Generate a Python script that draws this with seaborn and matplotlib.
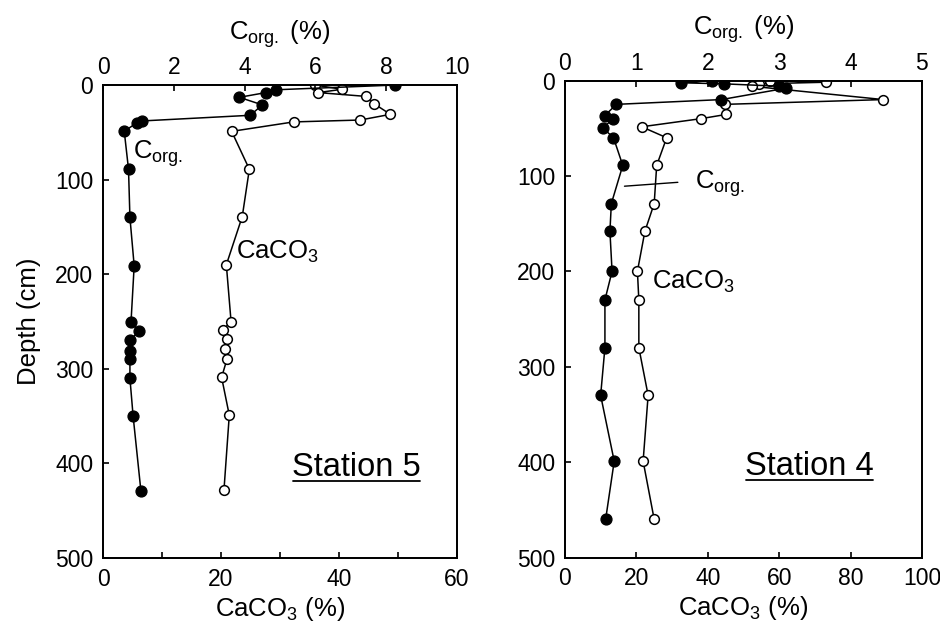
import matplotlib
matplotlib.use("Agg")
import matplotlib.pyplot as plt
import seaborn as sns
import pandas as pd
from matplotlib.lines import Line2D

# ---------------- data ----------------
# Station 5
s5_corg_depth = [0, 5, 8, 13, 21, 32, 38, 40, 49, 89, 140, 191, 251, 260, 270, 281, 290, 310, 350, 429]
s5_corg = [8.26, 4.9, 4.6, 3.85, 4.5, 4.16, 1.09, 0.95, 0.6, 0.72, 0.76, 0.88, 0.79, 1.02, 0.76, 0.76, 0.76, 0.76, 0.85, 1.07]
s5_caco3_depth = [0, 4.5, 8, 12, 20, 31, 37, 39, 49, 89, 139, 190, 250, 259, 269, 279, 290, 309, 349, 428]
s5_caco3 = [35.9, 40.5, 36.5, 44.5, 46.0, 48.7, 43.6, 32.3, 21.8, 24.8, 23.6, 20.9, 21.7, 20.3, 21.0, 20.6, 21.0, 20.1, 21.4, 20.5]

# Station 4
s4_corg_depth = [0, 2.4, 3.5, 6, 8, 20, 25, 36.7, 40, 49.6, 60, 89, 129, 158, 200, 230, 280, 330, 399, 460]
s4_corg = [2.06, 1.63, 2.23, 3.0, 3.1, 2.19, 0.72, 0.56, 0.68, 0.53, 0.68, 0.81, 0.65, 0.63, 0.66, 0.56, 0.56, 0.50, 0.69, 0.57]
s4_caco3_depth = [0, 1.8, 3.5, 6, 20, 25, 35.6, 40, 48.5, 60, 89, 129, 158, 200, 230, 280, 330, 399, 460]
s4_caco3 = [57.4, 73.1, 54.4, 52.3, 89.2, 44.8, 45.1, 38.1, 21.5, 28.5, 25.7, 25.0, 22.4, 20.3, 20.7, 20.7, 23.3, 21.9, 25.0]

depth_ticks = [0, 100, 200, 300, 400, 500]
s5_caco3_ticks = [0, 20, 40, 60]
s5_caco3_minor = [10, 30, 50]
s5_corg_ticks = [0, 2, 4, 6, 8, 10]
s4_caco3_ticks = [0, 20, 40, 60, 80, 100]
s4_corg_ticks = [0, 1, 2, 3, 4, 5]

# ---------------- style ----------------
sns.set_style("ticks")
plt.rcParams["font.family"] = ["Liberation Sans", "DejaVu Sans"]
plt.rcParams["mathtext.fontset"] = "custom"
plt.rcParams["mathtext.rm"] = "Liberation Sans"
plt.rcParams["mathtext.it"] = "Liberation Sans"
plt.rcParams["mathtext.default"] = "regular"
plt.rcParams["axes.linewidth"] = 1.3
for k in ("text.color", "axes.labelcolor", "xtick.color", "ytick.color", "axes.edgecolor"):
    plt.rcParams[k] = "black"

TICK_FS = 16.5
LABEL_FS = 18.5
STATION_FS = 23.5

fig = plt.figure(figsize=(9.4, 6.27), dpi=100)
ax5 = fig.add_axes([0.1096, 0.110, 0.3766, 0.7544])
ax4 = fig.add_axes([0.601, 0.1108, 0.3798, 0.7608])


def draw_panel(ax, caco3, caco3_depth, corg, corg_depth, caco3_ticks, corg_ticks,
               caco3_max, corg_max, caco3_minor=None):
    ax.set_xlim(0, caco3_max)
    ax.set_ylim(500, 0)
    top = ax.twiny()
    top.set_xlim(0, corg_max)
    df_ca = pd.DataFrame({"CaCO3": caco3, "Depth": caco3_depth})
    df_c = pd.DataFrame({"Corg": corg, "Depth": corg_depth})
    sns.lineplot(data=df_ca, x="CaCO3", y="Depth", sort=False, estimator=None, ax=ax,
                 color="black", linewidth=1.1, marker="o", markersize=7,
                 markerfacecolor="white", markeredgecolor="black", markeredgewidth=1.1,
                 zorder=3)
    sns.lineplot(data=df_c, x="Corg", y="Depth", sort=False, estimator=None, ax=top,
                 color="black", linewidth=1.1, marker="o", markersize=7.8,
                 markerfacecolor="black", markeredgecolor="black", markeredgewidth=1.0,
                 zorder=3)
    ax.set_ylim(500, 0)
    ax.set_xticks(caco3_ticks)
    if caco3_minor:
        ax.set_xticks(caco3_minor, minor=True)
    ax.set_yticks(depth_ticks)
    ax.tick_params(axis="both", which="both", direction="in", length=4, width=1.2,
                   labelsize=TICK_FS)
    ax.tick_params(axis="x", pad=7)
    ax.tick_params(axis="y", pad=7)
    top.set_xticks(corg_ticks)
    top.tick_params(axis="x", which="both", direction="in", length=4, width=1.2,
                    labelsize=TICK_FS, pad=4)
    ax.set_xlabel(r"CaCO$_3$ (%)", fontsize=LABEL_FS, labelpad=3)
    top.set_xlabel(r"C$_{org.}$ (%)", fontsize=LABEL_FS, labelpad=12)
    ax.set_ylabel("")
    top.set_ylabel("")
    for a in (ax, top):
        for s in a.spines.values():
            s.set_visible(True)
            s.set_linewidth(1.3)
            s.set_color("black")
    return top


top5 = draw_panel(ax5, s5_caco3, s5_caco3_depth, s5_corg, s5_corg_depth,
                  s5_caco3_ticks, s5_corg_ticks, 60, 10, s5_caco3_minor)
top4 = draw_panel(ax4, s4_caco3, s4_caco3_depth, s4_corg, s4_corg_depth,
                  s4_caco3_ticks, s4_corg_ticks, 100, 5)

ax5.set_ylabel("Depth (cm)", fontsize=LABEL_FS, labelpad=10)

# annotations
ax5.text(5.0, 78, r"C$_{org.}$", fontsize=LABEL_FS, ha="left", va="baseline")
ax5.text(22.6, 184, r"CaCO$_3$", fontsize=LABEL_FS, ha="left", va="baseline")
ax4.text(36.4, 113, r"C$_{org.}$", fontsize=LABEL_FS, ha="left", va="baseline")
ax4.annotate("", xy=(15.9, 111), xytext=(32.4, 106.5),
             arrowprops=dict(arrowstyle="-", color="black", lw=1.0))
ax4.text(24.3, 218, r"CaCO$_3$", fontsize=LABEL_FS, ha="left", va="baseline")

st5 = ax5.text(32.0, 413, "Station 5", fontsize=STATION_FS, ha="left", va="baseline")
st4 = ax4.text(50.4, 413, "Station 4", fontsize=STATION_FS, ha="left", va="baseline")

fig.canvas.draw()
inv = fig.transFigure.inverted()
for ax, t, (x, y) in ((ax5, st5, (32.0, 413)), (ax4, st4, (50.4, 413))):
    bb = t.get_window_extent()
    _, ybase = ax.transData.transform((x, y))
    yl = ybase - 5
    p0 = inv.transform((bb.x0 + 1, yl))
    p1 = inv.transform((bb.x1 - 1, yl))
    fig.add_artist(Line2D([p0[0], p1[0]], [p0[1], p1[1]], transform=fig.transFigure,
                          color="black", linewidth=1.3))

fig.savefig("out.png", dpi=100)
